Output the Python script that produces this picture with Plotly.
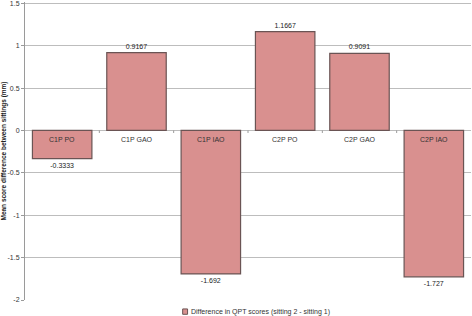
import plotly.graph_objects as go

categories = ["C1P PO", "C1P GAO", "C1P IAO", "C2P PO", "C2P GAO", "C2P IAO"]
values = [-0.3333, 0.9167, -1.692, 1.1667, 0.9091, -1.727]
labels = ["-0.3333", "0.9167", "-1.692", "1.1667", "0.9091", "-1.727"]
series_name = "Difference in QPT scores (sitting 2 - sitting 1)"
y_ticks = [1.5, 1, 0.5, 0, -0.5, -1, -1.5, -2]
y_ticklabels = ["1.5", "1", "0.5", "0", "-0.5", "-1", "-1.5", "-2"]

FONT = "Liberation Sans"

fig = go.Figure()
fig.add_trace(go.Bar(
    x=list(range(len(categories))),
    y=values,
    name=series_name,
    marker=dict(color="#D9908F", line=dict(color="#6a5454", width=1.2)),
    text=labels,
    textposition="outside",
    textfont=dict(family=FONT, size=7, color="#222222"),
    cliponaxis=False,
    showlegend=False,
))

# category labels just under the zero line
for i, c in enumerate(categories):
    fig.add_annotation(x=i, y=0, xref="x", yref="y", text=c, showarrow=False,
                       yanchor="top", yshift=-4,
                       font=dict(family=FONT, size=7, color="#333333"))

# small tick marks at category boundaries on zero line
for i in range(len(categories) - 1):
    fig.add_shape(type="line", xref="x", yref="y", x0=i + 0.5, x1=i + 0.5,
                  y0=0, y1=-0.03, line=dict(color="#999999", width=1))

# legend (drawn in paper space to avoid margin growth)
fig.add_shape(type="rect", xref="paper", yref="paper",
              x0=0.3535, x1=0.3645, y0=-0.048, y1=-0.030,
              fillcolor="#D9908F", line=dict(color="#6a5454", width=1))
fig.add_annotation(x=0.368, y=-0.039, xref="paper", yref="paper", text=series_name,
                   showarrow=False, xanchor="left", yanchor="middle",
                   font=dict(family=FONT, size=7, color="#333333"))

fig.update_layout(
    width=472, height=316,
    margin=dict(l=25, r=1, t=2, b=16),
    paper_bgcolor="white", plot_bgcolor="white",
    bargap=0.2,
    showlegend=False,
    font=dict(family=FONT, size=7, color="#333333"),
    xaxis=dict(range=[-0.5, len(categories) - 0.5], showticklabels=False,
               showgrid=False, zeroline=False, showline=False, ticks="",
               automargin=False),
    yaxis=dict(range=[-2, 1.515], tickvals=y_ticks, ticktext=y_ticklabels,
               automargin=False, ticklabeloverflow="allow",
               showgrid=True, gridcolor="#bdbdbd", gridwidth=1,
               zeroline=True, zerolinecolor="#bdbdbd", zerolinewidth=1,
               showline=True, linecolor="#9a9a9a", linewidth=1,
               ticks="outside", ticklen=3, tickcolor="#9a9a9a",
               tickfont=dict(family=FONT, size=7, color="#333333"),
               title=dict(text="<b>Mean score difference between sittings (mm)</b>",
                          font=dict(family=FONT, size=6.5, color="#222222"),
                          standoff=2)),
)

fig.write_html("out.html", config={"displayModeBar": False},
               post_script="document.body.style.margin='0';document.body.style.overflow='hidden';")
